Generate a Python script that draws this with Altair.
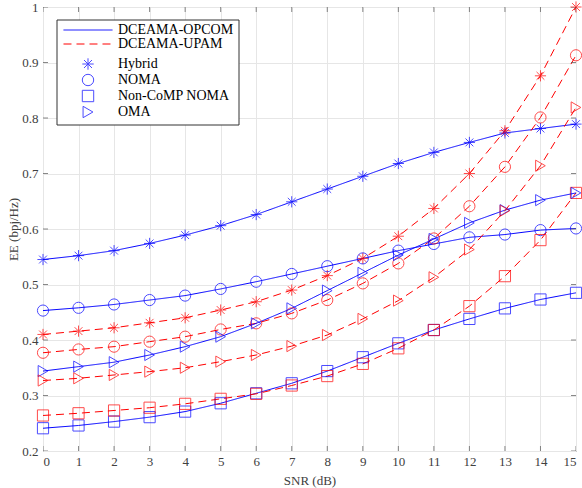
import altair as alt
import pandas as pd

snr = list(range(16))

hybrid_opcom = [0.545, 0.552, 0.561, 0.574, 0.589, 0.606, 0.626, 0.649, 0.672, 0.695, 0.718, 0.738, 0.756, 0.773, 0.781, 0.789]
hybrid_upam = [0.410, 0.416, 0.422, 0.431, 0.440, 0.454, 0.469, 0.490, 0.516, 0.547, 0.587, 0.637, 0.700, 0.777, 0.876, 1.000]
noma_opcom = [0.453, 0.458, 0.464, 0.472, 0.480, 0.492, 0.505, 0.519, 0.533, 0.547, 0.561, 0.573, 0.585, 0.590, 0.598, 0.601]
noma_upam = [0.377, 0.383, 0.388, 0.397, 0.406, 0.419, 0.430, 0.448, 0.472, 0.502, 0.538, 0.583, 0.641, 0.712, 0.801, 0.913]
noncomp_opcom = [0.241, 0.246, 0.253, 0.261, 0.271, 0.286, 0.304, 0.322, 0.344, 0.369, 0.394, 0.418, 0.438, 0.457, 0.473, 0.485]
noncomp_upam = [0.264, 0.268, 0.273, 0.278, 0.285, 0.294, 0.303, 0.318, 0.335, 0.357, 0.385, 0.418, 0.461, 0.515, 0.580, 0.665]
oma_opcom = [0.344, 0.352, 0.360, 0.373, 0.388, 0.406, 0.430, 0.457, 0.489, 0.521, 0.553, 0.582, 0.611, 0.634, 0.652, 0.665]
oma_upam = [0.327, 0.331, 0.337, 0.343, 0.350, 0.361, 0.373, 0.389, 0.409, 0.438, 0.471, 0.513, 0.563, 0.633, 0.714, 0.819]

methods = ["DCEAMA-OPCOM", "DCEAMA-UPAM"]
schemes = ["Hybrid", "NOMA", "Non-CoMP NOMA", "OMA"]
y_ticks = [0.2, 0.3, 0.4, 0.5, 0.6, 0.7, 0.8, 0.9, 1.0]

series = {
    ("DCEAMA-OPCOM", "Hybrid"): hybrid_opcom,
    ("DCEAMA-UPAM", "Hybrid"): hybrid_upam,
    ("DCEAMA-OPCOM", "NOMA"): noma_opcom,
    ("DCEAMA-UPAM", "NOMA"): noma_upam,
    ("DCEAMA-OPCOM", "Non-CoMP NOMA"): noncomp_opcom,
    ("DCEAMA-UPAM", "Non-CoMP NOMA"): noncomp_upam,
    ("DCEAMA-OPCOM", "OMA"): oma_opcom,
    ("DCEAMA-UPAM", "OMA"): oma_upam,
}

rows = []
for (m, s), vals in series.items():
    for x, v in zip(snr, vals):
        rows.append({"snr": x, "ee": v, "method": m, "scheme": s})
df = pd.DataFrame(rows)
xticks_df = pd.DataFrame({"snr": snr})
yticks_df = pd.DataFrame({"ee": y_ticks})

FONT = "Liberation Serif"
AXIS_COLOR = "#555555"
STAR = "M-1,0L1,0M0,-1L0,1M-0.7,-0.7L0.7,0.7M-0.7,0.7L0.7,-0.7"
LINE_SYM = "M-4.3,0L4.3,0"
W, H = 533, 444

x_enc = alt.X("snr:Q", scale=alt.Scale(domain=[0, 15], nice=False),
              axis=alt.Axis(title="SNR (dB)", values=snr, format="d", tickSize=0,
                            labelOverlap=False, labelPadding=4, titlePadding=6))
y_enc = alt.Y("ee:Q", scale=alt.Scale(domain=[0.2, 1.0], nice=False),
              axis=alt.Axis(title="EE (bpj/Hz)", values=y_ticks,
                            labelExpr="datum.value == 1 ? '1' : format(datum.value, '.1f')",
                            labelOverlap=False,
                            tickSize=0, labelPadding=5, titlePadding=1))

color_scale = alt.Scale(domain=methods, range=["#0000ff", "#ff0000"])

common_legend = dict(title=None, orient="none", legendX=38, symbolSize=130,
                     symbolStrokeWidth=1, labelOffset=23, labelFontSize=14,
                     labelFont=FONT, rowPadding=0, labelColor="#000000")

line_legend = alt.Legend(legendY=16, symbolType=LINE_SYM, **common_legend)

lines = alt.Chart(df).mark_line(strokeWidth=1).encode(
    x=x_enc,
    y=y_enc,
    color=alt.Color("method:N", scale=color_scale, legend=line_legend),
    strokeDash=alt.StrokeDash("method:N", scale=alt.Scale(domain=methods, range=[[1, 0], [8, 5]]),
                              legend=line_legend),
    detail="scheme:N",
)

points = alt.Chart(df).mark_point(filled=False, size=125, strokeWidth=1).encode(
    x=x_enc,
    y=y_enc,
    color=alt.Color("method:N", scale=color_scale, legend=None),
    shape=alt.Shape("scheme:N", scale=alt.Scale(domain=schemes,
                                                range=[STAR, "circle", "square", "triangle-right"]),
                    legend=alt.Legend(legendY=50, symbolStrokeColor="#0000ff",
                                      symbolFillColor="transparent", **common_legend)),
)

# inward tick marks on all four sides (half of each tick is clipped away)
tick_x_bottom = alt.Chart(xticks_df).mark_tick(orient="vertical", size=10, thickness=1,
                                               color=AXIS_COLOR, clip=True).encode(
    x=x_enc, y=alt.value(H))
tick_x_top = alt.Chart(xticks_df).mark_tick(orient="vertical", size=10, thickness=1,
                                            color=AXIS_COLOR, clip=True).encode(
    x=x_enc, y=alt.value(0))
tick_y_left = alt.Chart(yticks_df).mark_tick(orient="horizontal", size=10, thickness=1,
                                             color=AXIS_COLOR, clip=True).encode(
    y=y_enc, x=alt.value(0))
tick_y_right = alt.Chart(yticks_df).mark_tick(orient="horizontal", size=10, thickness=1,
                                              color=AXIS_COLOR, clip=True).encode(
    y=y_enc, x=alt.value(W))

frame = alt.Chart(pd.DataFrame({"a": [0]})).mark_rect(
    fill="white", stroke="#333333", strokeWidth=1
).encode(x=alt.value(14), x2=alt.value(196), y=alt.value(13), y2=alt.value(118))

chart = alt.layer(lines, points, tick_x_bottom, tick_x_top, tick_y_left, tick_y_right, frame).properties(
    width=W, height=H,
    autosize=alt.AutoSizeParams(type="none"),
    padding={"left": 43, "top": 7, "right": 6, "bottom": 37},
).configure(
    font=FONT
).configure_view(
    stroke=AXIS_COLOR, strokeWidth=1
).configure_axis(
    grid=True, gridColor="#e6e6e6", gridWidth=1,
    domain=False,
    labelFont=FONT, labelFontSize=13, labelColor="#404040",
    titleFont=FONT, titleFontSize=13, titleColor="#404040", titleFontWeight="normal",
)

chart.save("out.html", embed_options={"renderer": "svg", "actions": False})
